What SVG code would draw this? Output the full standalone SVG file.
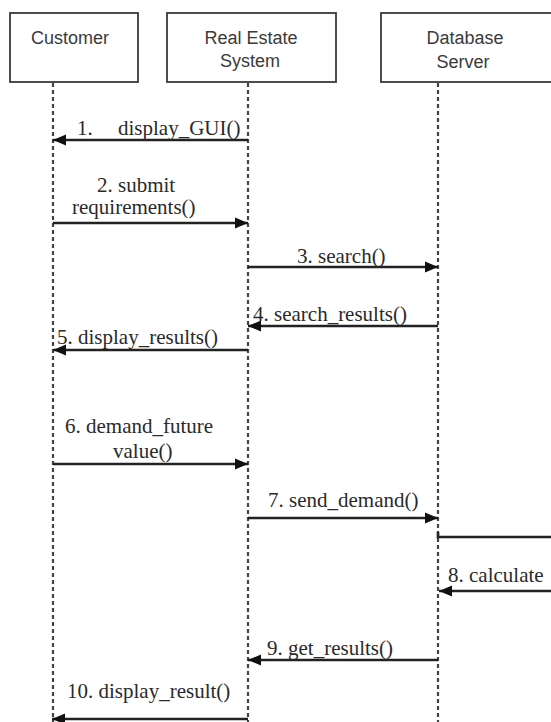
<svg xmlns="http://www.w3.org/2000/svg" width="551" height="722" viewBox="0 0 551 722">
<style>
.box{fill:#fff;stroke:#3a3a3a;stroke-width:1.8}
.hdr{font-family:"Liberation Sans",Arial,sans-serif;font-size:18px;fill:#3a3a3a;text-anchor:middle}
.life{stroke:#444;stroke-width:2.2;stroke-dasharray:4 3;fill:none}
.msg{stroke:#222;stroke-width:2.6;fill:none}
.lbl{font-family:"Liberation Serif","Times New Roman",serif;font-size:21px;fill:#2a2a2a}
</style>
<defs>
<marker id="ah" markerUnits="userSpaceOnUse" markerWidth="14" markerHeight="12" refX="13" refY="6" orient="auto">
<path d="M0,0.5 L13,6 L0,11.5 Z" fill="#111"/>
</marker>
</defs>
<rect width="551" height="722" fill="#fff"/>
<g id="customer">
<rect class="box" x="10" y="13" width="128" height="69"/>
<text class="hdr" x="70" y="44">Customer</text>
</g>
<g id="realestate">
<rect class="box" x="167" y="13" width="169" height="69"/>
<text class="hdr" x="251" y="44">Real Estate</text>
<text class="hdr" x="250" y="67">System</text>
</g>
<g id="database">
<rect class="box" x="381" y="13" width="172" height="69"/>
<text class="hdr" x="465" y="44">Database</text>
<text class="hdr" x="463" y="68">Server</text>
</g>
<g id="lifelines">
<line class="life" x1="53" y1="83" x2="53" y2="722"/>
<line class="life" x1="248" y1="83" x2="248" y2="722"/>
<line class="life" x1="438" y1="83" x2="438" y2="722"/>
</g>
<g id="connectors">
<line class="msg" x1="248" y1="140" x2="53" y2="140" marker-end="url(#ah)"/>
<line class="msg" x1="53" y1="223" x2="248" y2="223" marker-end="url(#ah)"/>
<line class="msg" x1="248" y1="267" x2="438" y2="267" marker-end="url(#ah)"/>
<line class="msg" x1="438" y1="326" x2="248" y2="326" marker-end="url(#ah)"/>
<line class="msg" x1="248" y1="350" x2="53" y2="350" marker-end="url(#ah)"/>
<line class="msg" x1="53" y1="464" x2="248" y2="464" marker-end="url(#ah)"/>
<line class="msg" x1="248" y1="518" x2="438" y2="518" marker-end="url(#ah)"/>
<path class="msg" d="M438,532 L438,537 L551,537"/>
<line class="msg" x1="551" y1="591" x2="439" y2="591" marker-end="url(#ah)"/>
<line class="msg" x1="438" y1="660" x2="248" y2="660" marker-end="url(#ah)"/>
<line class="msg" x1="248" y1="719" x2="52" y2="719" marker-end="url(#ah)"/>
</g>
<g id="labels">
<text class="lbl" x="77" y="135">1.<tspan x="118">display_GUI()</tspan></text>
<text class="lbl" x="97" y="192">2. submit</text>
<text class="lbl" x="72" y="214">requirements()</text>
<text class="lbl" x="297" y="263">3. search()</text>
<text class="lbl" x="253" y="321">4. search_results()</text>
<text class="lbl" x="57" y="344">5. display_results()</text>
<text class="lbl" x="65" y="433">6. demand_future</text>
<text class="lbl" x="113" y="458">value()</text>
<text class="lbl" x="268" y="507">7. send_demand()</text>
<text class="lbl" x="448" y="582">8. calculate</text>
<text class="lbl" x="267" y="655">9. get_results()</text>
<text class="lbl" x="67" y="698">10. display_result()</text>
</g>
</svg>
